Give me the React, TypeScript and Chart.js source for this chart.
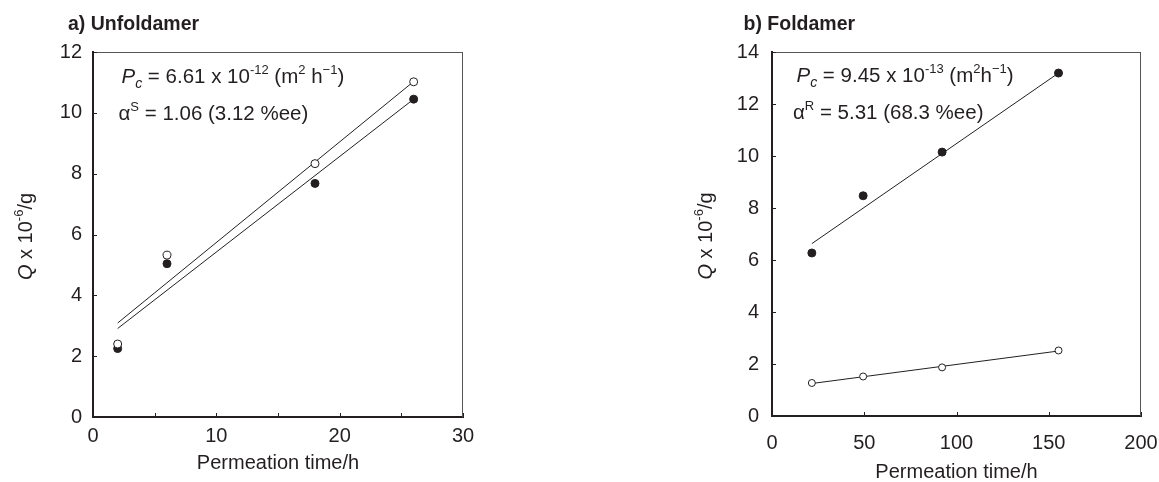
import React, { useEffect, useRef } from 'react';
import { Chart, registerables } from 'chart.js';

Chart.register(...registerables);

const FONT = '"Liberation Sans", Arial, Helvetica, sans-serif';
const INK = '#231f20';

// ---- Panel a) Unfoldamer ----
const unfoldTime = [2, 6, 18, 26];
const unfoldOpen = [2.4, 5.32, 8.33, 11.02];
const unfoldFilled = [2.25, 5.04, 7.68, 10.45];
const unfoldFitTime = [2, 26];
const unfoldFitOpen = [3.09, 11.03];
const unfoldFitFilled = [2.91, 10.45];
const unfoldXLabels = [0, 10, 20, 30];
const unfoldYLabels = [0, 2, 4, 6, 8, 10, 12];

// ---- Panel b) Foldamer ----
const foldTime = [21.6, 49.4, 92.2, 155.3];
const foldFilled = [6.27, 8.47, 10.15, 13.19];
const foldOpen = [1.27, 1.52, 1.87, 2.52];
const foldFitTime = [21.6, 155.3];
const foldFitFilled = [6.63, 13.19];
const foldFitOpen = [1.25, 2.5];
const foldXLabels = [0, 50, 100, 150, 200];
const foldYLabels = [0, 2, 4, 6, 8, 10, 12, 14];

type Seg = { t: string; italic?: boolean; size?: number; dy?: number };

const annotA1: Seg[] = [
  { t: 'P', italic: true },
  { t: 'c', italic: true, size: 14, dy: 5 },
  { t: ' = 6.61 x 10' },
  { t: '-12', size: 13, dy: -9 },
  { t: ' (m' },
  { t: '2', size: 13, dy: -9 },
  { t: ' h' },
  { t: '\u22121', size: 13, dy: -9 },
  { t: ')' },
];
const annotA2: Seg[] = [
  { t: '\u03b1' },
  { t: 'S', size: 13, dy: -9 },
  { t: ' = 1.06 (3.12 %ee)' },
];
const annotB1: Seg[] = [
  { t: 'P', italic: true },
  { t: 'c', italic: true, size: 14, dy: 5 },
  { t: ' = 9.45 x 10' },
  { t: '-13', size: 13, dy: -9 },
  { t: ' (m' },
  { t: '2', size: 13, dy: -9 },
  { t: 'h' },
  { t: '\u22121', size: 13, dy: -9 },
  { t: ')' },
];
const annotB2: Seg[] = [
  { t: '\u03b1' },
  { t: 'R', size: 13, dy: -9 },
  { t: ' = 5.31 (68.3 %ee)' },
];
const yTitle: Seg[] = [
  { t: 'Q', italic: true },
  { t: ' x 10' },
  { t: '-6', size: 13, dy: -9 },
  { t: '/g' },
];
const xTitle = 'Permeation time/h';

function richWidth(ctx: CanvasRenderingContext2D, segs: Seg[], base: number) {
  let w = 0;
  for (const s of segs) {
    ctx.font = `${s.italic ? 'italic ' : ''}${s.size ?? base}px ${FONT}`;
    w += ctx.measureText(s.t).width;
  }
  return w;
}

function drawRich(ctx: CanvasRenderingContext2D, segs: Seg[], x: number, y: number, base: number) {
  let cx = x;
  ctx.textBaseline = 'alphabetic';
  ctx.textAlign = 'left';
  for (const s of segs) {
    ctx.font = `${s.italic ? 'italic ' : ''}${s.size ?? base}px ${FONT}`;
    ctx.fillText(s.t, cx, y + (s.dy ?? 0));
    cx += ctx.measureText(s.t).width;
  }
}

type Decor = {
  title: string;
  titleX: number;
  titleY: number;
  yTitleX: number;
  xTitleY: number;
  annot1: Seg[];
  annot1X: number;
  annot1Y: number;
  annot2: Seg[];
  annot2X: number;
  annot2Y: number;
};

function makeDecorPlugin(d: Decor) {
  return {
    id: 'decor',
    afterDraw(chart: any) {
      const ctx: CanvasRenderingContext2D = chart.ctx;
      const { left, right, top, bottom } = chart.chartArea;
      const xs = chart.scales.x;
      const ys = chart.scales.y;
      ctx.save();
      // thin top / right frame
      ctx.strokeStyle = '#555';
      ctx.lineWidth = 1;
      ctx.beginPath();
      ctx.moveTo(left, top + 0.5);
      ctx.lineTo(right, top + 0.5);
      ctx.moveTo(right - 0.5, top);
      ctx.lineTo(right - 0.5, bottom);
      ctx.stroke();
      // inward tick marks
      ctx.strokeStyle = INK;
      ctx.beginPath();
      for (const t of xs.ticks) {
        const px = Math.round(xs.getPixelForValue(t.value)) + 0.5;
        ctx.moveTo(px, bottom);
        ctx.lineTo(px, bottom - 4);
      }
      for (const t of ys.ticks) {
        const py = Math.round(ys.getPixelForValue(t.value)) + 0.5;
        ctx.moveTo(left, py);
        ctx.lineTo(left + 4, py);
      }
      ctx.stroke();
      ctx.fillStyle = INK;
      // panel title
      ctx.font = `bold 19.5px ${FONT}`;
      ctx.textAlign = 'left';
      ctx.textBaseline = 'alphabetic';
      ctx.fillText(d.title, d.titleX, d.titleY);
      // x title
      ctx.font = `20px ${FONT}`;
      ctx.textAlign = 'center';
      ctx.fillText(xTitle, (left + right) / 2, d.xTitleY);
      // y title (rotated)
      const w = richWidth(ctx, yTitle, 20);
      ctx.save();
      ctx.translate(d.yTitleX, (top + bottom) / 2 + 2);
      ctx.rotate(-Math.PI / 2);
      drawRich(ctx, yTitle, -w / 2, 0, 20);
      ctx.restore();
      // annotations
      drawRich(ctx, d.annot1, d.annot1X, d.annot1Y, 20.5);
      drawRich(ctx, d.annot2, d.annot2X, d.annot2Y, 20.5);
      ctx.restore();
    },
  };
}

function pts(xs: number[], ys: number[]) {
  return xs.map((x, i) => ({ x, y: ys[i] }));
}

function buildConfig(p: {
  time: number[];
  filled: number[];
  open: number[];
  fitTime: number[];
  fitFilled: number[];
  fitOpen: number[];
  xMax: number;
  xStep: number;
  xLabels: number[];
  yMax: number;
  yLabels: number[];
  padding: { top: number; right: number; bottom: number; left: number };
  yWidth: number;
  xHeight: number;
  xPad: number;
  yPad: number;
  openRadius: number;
  decor: Decor;
}) {
  const tickFont = { family: FONT, size: 20 };
  return {
    type: 'scatter' as const,
    data: {
      datasets: [
        {
          data: pts(p.time, p.open),
          pointRadius: p.openRadius,
          pointBackgroundColor: '#ffffff',
          pointBorderColor: INK,
          pointBorderWidth: 1,
          showLine: false,
        },
        {
          data: pts(p.time, p.filled),
          pointRadius: 4,
          pointBackgroundColor: INK,
          pointBorderColor: INK,
          pointBorderWidth: 1,
          showLine: false,
        },
        {
          data: pts(p.fitTime, p.fitOpen),
          showLine: true,
          pointRadius: 0,
          borderColor: INK,
          borderWidth: 1,
          fill: false,
        },
        {
          data: pts(p.fitTime, p.fitFilled),
          showLine: true,
          pointRadius: 0,
          borderColor: INK,
          borderWidth: 1,
          fill: false,
        },
      ],
    },
    options: {
      responsive: false,
      animation: false,
      layout: { padding: p.padding },
      plugins: { legend: { display: false }, tooltip: { enabled: false }, title: { display: false } },
      scales: {
        x: {
          type: 'linear',
          min: 0,
          max: p.xMax,
          grid: { display: false, drawTicks: false },
          border: { display: true, width: 2, color: INK },
          ticks: {
            stepSize: p.xStep,
            autoSkip: false,
            maxRotation: 0,
            color: INK,
            font: tickFont,
            padding: p.xPad,
            callback: (v: number) => (p.xLabels.includes(v) ? String(v) : ''),
          },
          afterFit: (s: any) => {
            s.height = p.xHeight;
            s.paddingLeft = 0;
            s.paddingRight = 0;
          },
        },
        y: {
          type: 'linear',
          min: 0,
          max: p.yMax,
          grid: { display: false, drawTicks: false },
          border: { display: true, width: 2, color: INK },
          ticks: {
            stepSize: 2,
            autoSkip: false,
            color: INK,
            font: tickFont,
            padding: p.yPad,
            callback: (v: number) => (p.yLabels.includes(v) ? String(v) : ''),
          },
          afterFit: (s: any) => {
            s.width = p.yWidth;
            s.paddingTop = 0;
            s.paddingBottom = 0;
          },
        },
      },
    },
    plugins: [makeDecorPlugin(p.decor)],
  };
}

function Panel(props: { config: any; width: number; height: number; left: number }) {
  const ref = useRef<HTMLCanvasElement | null>(null);
  useEffect(() => {
    if (!ref.current) return;
    const chart = new Chart(ref.current, props.config);
    return () => chart.destroy();
  }, []);
  return (
    <div style={{ position: 'absolute', left: props.left, top: 0, width: props.width, height: props.height }}>
      <canvas ref={ref} width={props.width} height={props.height} style={{ display: 'block' }} />
    </div>
  );
}

export default function App() {
  const configA = buildConfig({
    time: unfoldTime,
    filled: unfoldFilled,
    open: unfoldOpen,
    fitTime: unfoldFitTime,
    fitFilled: unfoldFitFilled,
    fitOpen: unfoldFitOpen,
    xMax: 30,
    xStep: 5,
    xLabels: unfoldXLabels,
    yMax: 12,
    yLabels: unfoldYLabels,
    padding: { top: 52, right: 117, bottom: 0, left: 0 },
    yWidth: 93,
    xHeight: 65,
    xPad: 7,
    yPad: 11,
    openRadius: 4,
    decor: {
      title: 'a) Unfoldamer',
      titleX: 68,
      titleY: 30,
      yTitleX: 31.5,
      xTitleY: 468.5,
      annot1: annotA1,
      annot1X: 121.5,
      annot1Y: 83,
      annot2: annotA2,
      annot2X: 118.5,
      annot2Y: 120,
    },
  });
  const configB = buildConfig({
    time: foldTime,
    filled: foldFilled,
    open: foldOpen,
    fitTime: foldFitTime,
    fitFilled: foldFitFilled,
    fitOpen: foldFitOpen,
    xMax: 200,
    xStep: 50,
    xLabels: foldXLabels,
    yMax: 14,
    yLabels: foldYLabels,
    padding: { top: 52, right: 18, bottom: 0, left: 0 },
    yWidth: 192,
    xHeight: 66,
    xPad: 15,
    yPad: 13,
    openRadius: 3.5,
    decor: {
      title: 'b) Foldamer',
      titleX: 743.5 - 580,
      titleY: 30,
      yTitleX: 711.5 - 580,
      xTitleY: 478,
      annot1: annotB1,
      annot1X: 796.5 - 580,
      annot1Y: 82,
      annot2: annotB2,
      annot2X: 793 - 580,
      annot2Y: 118.5,
    },
  });
  return (
    <div style={{ position: 'fixed', left: 0, top: 0, width: 1159, height: 482, background: '#ffffff' }}>
      <Panel config={configA} width={580} height={482} left={0} />
      <Panel config={configB} width={579} height={482} left={580} />
    </div>
  );
}
